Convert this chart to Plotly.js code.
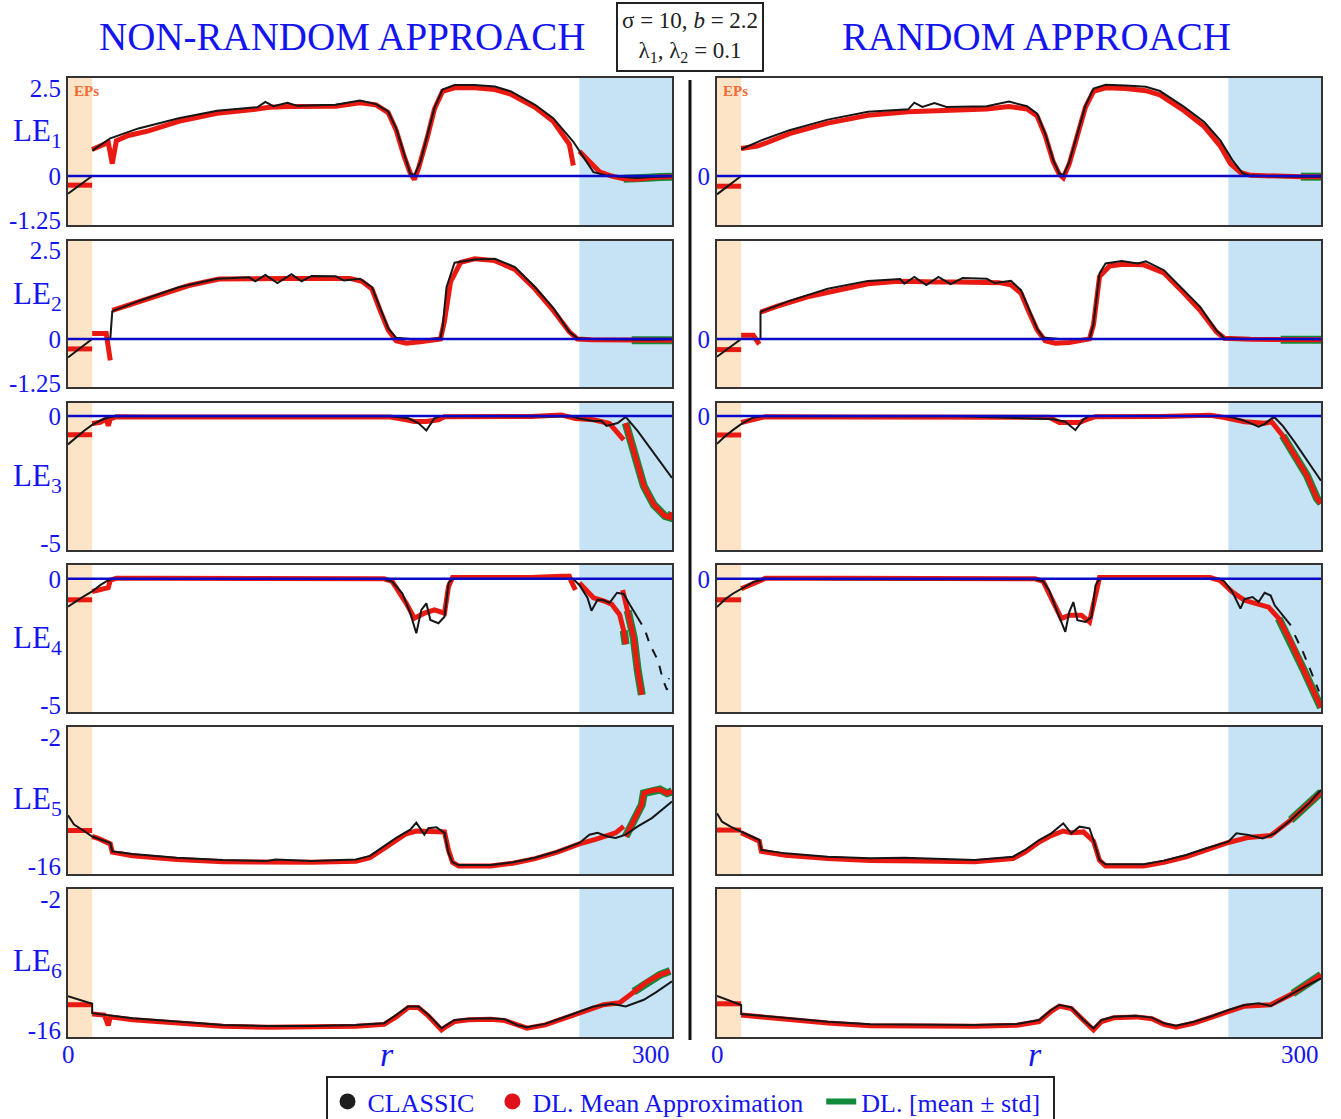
<!DOCTYPE html>
<html>
<head>
<meta charset="utf-8">
<script src="https://cdn.plot.ly/plotly-3.0.1.min.js"></script>
<style>html,body{margin:0;padding:0;background:#fff;}#chart{width:1341px;height:1119px;}</style>
</head>
<body>
<div id="chart"></div>
<script>
// ---------------- DATA ----------------
const columnTitles = ["NON-RANDOM APPROACH", "RANDOM APPROACH"];
const rowLabels = ["LE<sub>1</sub>", "LE<sub>2</sub>", "LE<sub>3</sub>", "LE<sub>4</sub>", "LE<sub>5</sub>", "LE<sub>6</sub>"];
const leftTickVals = [[-1.25, 0, 2.5], [-1.25, 0, 2.5], [-5, 0], [-5, 0], [-16, -2], [-16, -2]];
const rightTickVals = [[0], [0], [0], [0], [], []];
const xTickLabels = ["0", "300"];
const legendNames = ["CLASSIC", "DL. Mean Approximation", "DL. [mean ± std]"];
const paramText = "σ = 10, <i>b</i> = 2.2<br>λ<sub>1</sub>, λ<sub>2</sub> = 0.1";
const epRange = [0, 12];
const testRange = [254, 300];

// ---- NON-RANDOM (left column) ----
const L1_r_cl = [0,4,8,12,12,12,21,35,55,74,94,98,102,109,114,133,145,153,159,163,167,170,172,175,178.5,182,186,192,202,212,220,232,241,251,257,261,267,275,282,290,300];
const L1_cl   = [-0.5,-0.33,-0.16,0.0,null,0.72,1.07,1.35,1.64,1.85,1.95,2.10,1.98,2.08,1.99,2.02,2.14,2.04,1.83,1.35,0.59,0.07,0.02,0.40,1.16,1.93,2.45,2.58,2.58,2.54,2.40,2.02,1.64,0.97,0.45,0.11,0.02,-0.03,-0.06,-0.03,-0.01];
const L1_r_dl = [0,12,12,12,20,22,24,30,40,55,74,94,100,110,120,133,145,153,159,163,167,170,172,174,178.5,182,186,192,202,212,220,232,241,249,251,253,254,260,264,270,276,282,288,294,300];
const L1_dl   = [-0.26,-0.26,null,0.75,0.95,0.35,1.0,1.15,1.28,1.55,1.78,1.90,1.95,1.97,1.96,1.98,2.08,2.02,1.80,1.30,0.55,0.08,-0.1,0.2,1.1,1.9,2.4,2.5,2.5,2.45,2.32,1.95,1.55,0.9,0.3,null,0.7,0.35,0.12,0.0,-0.08,-0.09,-0.05,-0.03,-0.02];

const L2_r_cl = [0,4,8,12,16,21,22,35,55,74,90,93,98,104,111,116,121,133,137,145,151,155,159,163,170,180,185,186,188,192,202,212,222,232,241,249,253,260,270,280,290,300];
const L2_cl   = [-0.52,-0.35,-0.17,0,0,0,0.78,1.06,1.45,1.69,1.73,1.62,1.80,1.57,1.82,1.62,1.77,1.76,1.64,1.69,1.45,0.87,0.30,0.03,0,0,0.02,0.3,1.45,2.14,2.23,2.25,2.02,1.45,0.87,0.2,0.02,0,-0.01,-0.02,-0.02,-0.01];
const L2_r_dl = [0,12,12,12,19,21,22,22,30,45,60,75,90,100,110,120,133,140,146,151,155,159,163,168,175,180,185,187,190,195,202,212,222,232,241,249,253,260,270,280,288,294,300];
const L2_dl   = [-0.28,-0.28,null,0.15,0.15,-0.6,null,0.8,0.95,1.22,1.5,1.68,1.70,1.70,1.70,1.70,1.72,1.70,1.62,1.40,0.80,0.25,-0.05,-0.12,-0.08,-0.05,0.0,0.5,1.6,2.15,2.25,2.2,1.95,1.4,0.8,0.2,0.0,-0.02,-0.03,-0.04,-0.06,-0.05,-0.04];

const L3_r_cl = [0,4,8,12,16,20,24,40,80,120,160,169,174,178,182,185,200,230,250,254,261,265,267.5,273,277,283,289,295,300];
const L3_cl   = [-1.12,-0.85,-0.58,-0.35,-0.18,-0.06,0,-0.01,-0.01,-0.01,-0.01,-0.09,-0.28,-0.57,-0.09,0,0,0,-0.02,-0.1,-0.2,-0.2,-0.39,-0.28,-0.04,-0.6,-1.26,-1.93,-2.44];
const L3_r_dl = [0,12,12,12,16,19,20,21,24,40,80,120,160,168,172,178,184,187,200,230,245,252,261,266,269,276,276,277,280,284,286,291,296.5,299,300];
const L3_dl   = [-0.74,-0.74,null,-0.3,-0.25,-0.12,-0.39,-0.12,-0.03,-0.04,-0.04,-0.04,-0.04,-0.15,-0.22,-0.22,-0.15,-0.03,-0.03,-0.02,0.04,-0.1,-0.15,-0.25,-0.3,-0.94,null,-0.28,-1.15,-2.3,-2.76,-3.5,-3.94,-4.0,-3.8];

const L4_r_cl = [0,4,8,12,16,19,22,40,80,120,157,161,166,170,173,175.5,178,180,184,187,189,191,200,230,250.8,254,258,260,263,266,269,272.7,276,279,285];
const L4_cl   = [-1.1,-0.88,-0.68,-0.5,-0.25,-0.1,0,-0.01,-0.01,-0.01,-0.01,-0.11,-0.57,-1.36,-2.16,-1.23,-0.97,-1.63,-1.76,-1.5,-0.17,0,0,0,0,-0.24,-0.75,-1.26,-0.83,-0.85,-0.95,-0.55,-0.6,-1.02,-1.81];
const L4_r_cl_dash = [287,289,293,295.5,297.5,298.5];
const L4_cl_dash   = [-2.13,-2.6,-3.23,-4.0,-4.4,-3.94];
const L4_r_dl = [0,12,12,12,16,20,21,24,40,80,120,157,161,168,172,177,182,187,189,191,200,230,245,249,250,252,252,254,258,261,266,270,274,276,277,277,275.5,278,281,283,285];
const L4_dl   = [-0.83,-0.83,null,-0.5,-0.44,-0.35,-0.05,0.02,0.02,0.02,0.02,0.0,-0.1,-0.97,-1.56,-1.36,-1.23,-1.36,-0.3,0.05,0.05,0.05,0.1,0.1,-0.1,-0.44,null,-0.16,-0.5,-0.75,-0.87,-1.0,-1.42,-2.05,-2.6,null,-0.44,-1.26,-2.33,-3.64,-4.6];

const L5_r_cl = [0,3,8,12,21,22,32,54,77,99,103,121,143,150,157,163,170,173,177,179,183,187,189,191,194,210,221,232,243,254,259,263,268,272,277,283,290,294,300];
const L5_cl   = [-10.5,-11.5,-12.2,-12.8,-13.5,-14.4,-14.7,-15.1,-15.35,-15.45,-15.3,-15.45,-15.3,-14.9,-13.85,-12.95,-12.05,-11.3,-12.6,-11.9,-11.8,-12.4,-14.6,-15.6,-15.9,-15.9,-15.6,-15.1,-14.4,-13.5,-12.6,-12.4,-12.8,-12.95,-12.6,-11.7,-10.8,-10.1,-9.0];
const L5_r_dl = [0,12,12,12,15,21,22,32,54,77,99,121,143,150,157,163,168,173,180,187,189,191,194,210,221,232,243,254,262,266,272,276,276,277,281,285,286,290,294,297.5,300];
const L5_dl   = [-12.15,-12.15,null,-12.8,-13.0,-13.6,-14.5,-14.9,-15.3,-15.55,-15.6,-15.6,-15.5,-15.1,-14.1,-13.2,-12.5,-12.2,-12.3,-12.3,-14.3,-15.6,-16.0,-16.0,-15.7,-15.2,-14.5,-13.6,-13.1,-12.8,-12.4,-11.7,null,-12.8,-11.0,-9.35,-8.1,-7.8,-7.7,-8.1,-7.9];

const L6_r_cl = [0,6,12,12,32,54,77,99,121,143,157,163,169,174,179,185.5,188,192,199,210,217,223,228,237,246,254,261,270,277,286,292,300];
const L6_cl   = [-12.4,-12.8,-13.2,-14.2,-14.74,-15.1,-15.46,-15.57,-15.57,-15.46,-15.28,-14.38,-13.49,-13.49,-14.38,-15.82,-15.46,-14.92,-14.81,-14.74,-14.85,-15.46,-15.71,-15.35,-14.67,-14.02,-13.49,-13.2,-13.49,-12.77,-11.98,-10.79];
const L6_r_dl = [0,12,12,12,18,20,21,32,54,77,99,121,143,157,163,169,174,179,185.5,188,192,199,210,217,223,228,237,246,254,266,274,281,288,294,299];
const L6_dl   = [-13.3,-13.3,null,-14.3,-14.4,-15.5,-14.6,-14.9,-15.3,-15.6,-15.7,-15.7,-15.6,-15.4,-14.6,-13.6,-13.6,-14.5,-16.0,-15.6,-15.1,-14.9,-14.85,-15.0,-15.5,-15.8,-15.45,-14.8,-14.1,-13.3,-13.1,-11.9,-10.8,-10.1,-9.7];

// ---- RANDOM (right column) ----
const R1_r_cl = [0,4,8,12,12,12,22,36,55,75,95,98,102,108,114,134,145,154,159,163,167,170,172,175,179,183,187,193,203,213,220,232,242,250,256,261,264,275,290,300];
const R1_cl   = [-0.52,-0.35,-0.17,0,null,0.76,1.01,1.30,1.60,1.82,1.89,2.08,1.96,2.07,1.96,1.98,2.11,1.98,1.77,1.20,0.45,0.07,0.02,0.40,1.20,2.0,2.48,2.59,2.57,2.53,2.41,1.96,1.53,1.01,0.45,0.08,0.02,-0.01,-0.02,-0.02];
const R1_r_dl = [0,12,12,12,20,25,36,55,75,95,110,134,145,154,159,163,167,170,172,175,179,183,187,193,203,213,220,232,242,250,255,260,265,275,290,300];
const R1_dl   = [-0.29,-0.29,null,0.78,0.85,0.95,1.2,1.5,1.72,1.82,1.85,1.90,1.97,1.90,1.70,1.15,0.4,0.05,-0.05,0.35,1.15,1.95,2.4,2.5,2.48,2.42,2.3,1.85,1.4,0.85,0.35,0.1,0.02,-0.01,-0.02,-0.02];

const R2_r_cl = [0,4,8,12,16,21.6,21.6,36,55,75,91,93,98,104,110,116,122,134,138,146,151,155,159,162,170,180,185,187,190,193,201,209,213,222,232,240,248,252,265,280,300];
const R2_cl   = [-0.5,-0.34,-0.17,0,0,0,0.76,1.07,1.41,1.63,1.68,1.55,1.74,1.51,1.74,1.54,1.71,1.69,1.57,1.63,1.37,0.81,0.29,0.04,0,0,0,0.43,1.84,2.12,2.19,2.12,2.18,1.93,1.37,0.90,0.24,0.02,0.0,-0.01,-0.01];
const R2_r_dl = [0,12,12,12,18,21,21.6,21.6,30,45,60,75,90,100,110,120,134,140,146,151,155,159,163,168,175,180,185,187,190,195,202,212,222,232,240,248,252,265,280,300];
const R2_dl   = [-0.3,-0.3,null,0.1,0.1,-0.15,null,0.75,0.92,1.18,1.38,1.55,1.62,1.60,1.60,1.60,1.60,1.58,1.52,1.28,0.75,0.25,-0.05,-0.12,-0.1,-0.05,0.0,0.4,1.75,2.05,2.1,2.08,1.85,1.28,0.8,0.2,0.02,-0.01,-0.02,-0.02];

const R3_r_cl = [0,4.3,8,12,18,24,60,120,167,173,178,182,185,220,252,256,262,266,269,272,275.5,277,281,287,293,299,300];
const R3_cl   = [-1.10,-0.78,-0.55,-0.32,-0.06,0,-0.01,-0.01,-0.13,-0.23,-0.56,-0.13,0,0,0,-0.06,-0.19,-0.32,-0.42,-0.32,-0.10,-0.06,-0.39,-1.04,-1.75,-2.47,-2.55];
const R3_r_dl = [0,12,12,12,20,24,60,120,165,170,180,185,188,220,245,252,262,272,275.5,281,287,293,298,300];
const R3_dl   = [-0.75,-0.75,null,-0.26,-0.12,-0.03,-0.04,-0.04,-0.05,-0.26,-0.26,-0.1,-0.03,-0.02,0.03,-0.06,-0.23,-0.29,-0.23,-0.78,-1.56,-2.34,-3.25,-3.44];

const R4_r_cl = [0,4.3,8,12,18,24,60,120,158,162,165,169,173,175,177,179,183,186,188,190,220,250,252,256,260,262,266,269,272,275,277,281,285];
const R4_cl   = [-1.12,-0.79,-0.58,-0.39,-0.13,0,-0.02,-0.02,-0.02,-0.1,-0.46,-1.31,-2.1,-1.31,-0.92,-1.64,-1.71,-1.51,-0.26,0,0,0,-0.1,-0.52,-1.18,-0.8,-0.72,-0.92,-0.55,-0.66,-1.05,-1.44,-1.84];
const R4_r_cl_dash = [287,291,295,299];
const R4_cl_dash   = [-2.23,-2.89,-3.67,-4.46];
const R4_r_dl = [0,12,12,12,20,24,60,120,158,162,167,171,175,181,185,188,190,220,245,250,256,262,268,274,279,285,291,297,300];
const R4_dl   = [-0.83,-0.83,null,-0.39,-0.1,0.02,0.02,0.02,0.0,-0.1,-0.92,-1.57,-1.44,-1.44,-1.71,-0.52,0.05,0.05,0.05,-0.07,-0.52,-0.85,-0.98,-1.12,-1.57,-2.49,-3.54,-4.59,-5.1];

const R5_r_cl = [0,2.5,6.7,12,21,22,34,55,76,93,107,128,147,153,160,166,172,176,180,185,187,190,193,212,222,233,243,254,258,264,271,277,285,294,300];
const R5_cl   = [-10.29,-11.19,-11.73,-12.27,-13.18,-14.26,-14.63,-14.99,-15.17,-15.1,-15.17,-15.35,-14.99,-14.26,-13.18,-12.46,-11.37,-12.46,-11.73,-11.91,-13.18,-15.35,-15.82,-15.82,-15.42,-14.81,-14.08,-13.36,-12.46,-12.64,-13.0,-12.46,-11.0,-9.2,-7.75];
const R5_r_dl = [0,12,12,12,21,22,34,55,76,100,128,147,153,160,166,172,176,182,187,190,193,212,222,233,243,254,264,275,285,294,300];
const R5_dl   = [-12.1,-12.1,null,-12.4,-13.3,-14.4,-14.85,-15.2,-15.4,-15.45,-15.55,-15.2,-14.5,-13.4,-12.7,-12.2,-12.4,-12.3,-13.3,-15.4,-16.0,-16.0,-15.6,-15.0,-14.2,-13.45,-12.9,-12.7,-11.0,-9.3,-8.0];

const R6_r_cl = [0,12,12,34,55,76,107,128,149,160,166,170,176,182,187,191,197,208,216,222,228,237,246,254,262,269,275,283,292,300];
const R6_cl   = [-12.37,-13.33,-14.29,-14.75,-15.11,-15.4,-15.47,-15.47,-15.36,-14.93,-13.86,-13.33,-13.58,-14.93,-15.82,-14.93,-14.58,-14.47,-14.68,-15.29,-15.54,-15.11,-14.5,-13.86,-13.33,-13.15,-13.44,-12.44,-11.37,-10.48];
const R6_r_dl = [0,12,12,12,34,55,76,107,128,149,160,166,170,176,182,187,191,197,208,216,222,228,237,246,254,262,275,286,294,300];
const R6_dl   = [-13.2,-13.2,null,-14.4,-14.9,-15.25,-15.55,-15.6,-15.6,-15.5,-15.1,-14.0,-13.45,-13.7,-15.0,-16.0,-15.1,-14.7,-14.6,-14.8,-15.4,-15.7,-15.25,-14.6,-13.95,-13.45,-13.3,-12.1,-11.0,-10.1];

// ---------------- LAYOUT / STYLE ----------------
const W = 1341, H = 1119;
const FONT = "Liberation Serif, 'DejaVu Serif', serif";
const BLUE = "#1414f0";
const colPx = [[68, 672], [717, 1321]];
const rowPx = [[78, 225], [241, 387], [403, 550], [565, 712], [727, 874], [889, 1037]];
const yRanges = [[-1.39, 2.78], [-1.35, 2.75], [-5.28, 0.51], [-5.28, 0.55], [-16.87, -0.91], [-16.75, -0.93]];
const labelYpx = [133, 296, 478, 640, 801, 963];
const rLabelPx = [387, 1035];
const greenFrom = 276;
const NB = "\u00A0";

const panels = [
  [
    {rc: L1_r_cl, c: L1_cl, rd: L1_r_dl, d: L1_dl},
    {rc: L2_r_cl, c: L2_cl, rd: L2_r_dl, d: L2_dl},
    {rc: L3_r_cl, c: L3_cl, rd: L3_r_dl, d: L3_dl},
    {rc: L4_r_cl, c: L4_cl, rd: L4_r_dl, d: L4_dl, rcd: L4_r_cl_dash, cd: L4_cl_dash},
    {rc: L5_r_cl, c: L5_cl, rd: L5_r_dl, d: L5_dl},
    {rc: L6_r_cl, c: L6_cl, rd: L6_r_dl, d: L6_dl}
  ],
  [
    {rc: R1_r_cl, c: R1_cl, rd: R1_r_dl, d: R1_dl},
    {rc: R2_r_cl, c: R2_cl, rd: R2_r_dl, d: R2_dl},
    {rc: R3_r_cl, c: R3_cl, rd: R3_r_dl, d: R3_dl},
    {rc: R4_r_cl, c: R4_cl, rd: R4_r_dl, d: R4_dl, rcd: R4_r_cl_dash, cd: R4_cl_dash},
    {rc: R5_r_cl, c: R5_cl, rd: R5_r_dl, d: R5_dl},
    {rc: R6_r_cl, c: R6_cl, rd: R6_r_dl, d: R6_dl}
  ]
];

const px2x = p => p / W;
const px2y = p => 1 - p / H;

const traces = [];
const layout = {
  width: W, height: H,
  margin: {l: 0, r: 0, t: 0, b: 0, autoexpand: false},
  paper_bgcolor: "#fff", plot_bgcolor: "#fff",
  showlegend: true,
  font: {family: FONT, color: BLUE},
  shapes: [], annotations: []
};

for (let row = 0; row < 6; row++) {
  for (let col = 0; col < 2; col++) {
    const n = row * 2 + col + 1;
    const xa = "x" + (n === 1 ? "" : n), ya = "y" + (n === 1 ? "" : n);
    const p = panels[col][row];
    layout["xaxis" + (n === 1 ? "" : n)] = {
      domain: [px2x(colPx[col][0]), px2x(colPx[col][1])],
      anchor: ya, range: [0, 300], showticklabels: false, ticks: "",
      showgrid: false, zeroline: false, showline: true, mirror: true,
      linecolor: "#333", linewidth: 2, fixedrange: true
    };
    const tv = col === 0 ? leftTickVals[row] : rightTickVals[row];
    layout["yaxis" + (n === 1 ? "" : n)] = {
      domain: [px2y(rowPx[row][1]), px2y(rowPx[row][0])],
      anchor: xa, range: yRanges[row], tickvals: tv, ticktext: tv.map(v => String(v)),
      ticks: "", ticklabelstandoff: 0, showticklabels: tv.length > 0,
      tickfont: {family: FONT, size: 25, color: BLUE},
      showgrid: false, zeroline: false, showline: true, mirror: true,
      linecolor: "#333", linewidth: 2, fixedrange: true
    };
    layout.shapes.push({type: "rect", xref: xa, yref: ya + " domain", x0: epRange[0], x1: epRange[1], y0: 0, y1: 1,
      fillcolor: "#fde4c6", line: {width: 0}, layer: "below"});
    layout.shapes.push({type: "rect", xref: xa, yref: ya + " domain", x0: testRange[0], x1: testRange[1], y0: 0, y1: 1,
      fillcolor: "#c5e3f4", line: {width: 0}, layer: "below"});
    if (row < 4) {
      layout.shapes.push({type: "line", xref: xa, yref: ya, x0: 0, x1: 300, y0: 0, y1: 0,
        line: {color: "#0a0ac8", width: 2.5}, layer: "above"});
    }
    const gx = [], gy = [];
    p.rd.forEach((r, i) => { if (r >= greenFrom) { gx.push(r); gy.push(p.d[i]); } });
    traces.push({x: gx, y: gy, xaxis: xa, yaxis: ya, mode: "lines", showlegend: false, hoverinfo: "skip",
      line: {color: "#138a3a", width: 8}, connectgaps: false});
    traces.push({x: p.rd, y: p.d, xaxis: xa, yaxis: ya, mode: "lines", showlegend: false, hoverinfo: "skip",
      line: {color: "#ea1a12", width: 5}, connectgaps: false});
    traces.push({x: p.rc, y: p.c, xaxis: xa, yaxis: ya, mode: "lines", showlegend: false, hoverinfo: "skip",
      line: {color: "#161616", width: 2}, connectgaps: false});
    if (p.rcd) {
      traces.push({x: p.rcd, y: p.cd, xaxis: xa, yaxis: ya, mode: "lines", showlegend: false, hoverinfo: "skip",
        line: {color: "#161616", width: 2, dash: "dash"}});
    }
  }
  layout.annotations.push({xref: "paper", yref: "paper", x: px2x(37), y: px2y(labelYpx[row]),
    xanchor: "center", yanchor: "middle", showarrow: false, text: rowLabels[row],
    font: {family: FONT, size: 31, color: BLUE}});
}

["x11", "x12"].forEach((xa, i) => {
  layout.annotations.push({xref: xa, yref: "paper", x: 0, y: px2y(1039), xanchor: "center", yanchor: "top",
    showarrow: false, text: xTickLabels[0], font: {family: FONT, size: 25, color: BLUE}});
  layout.annotations.push({xref: xa, yref: "paper", x: 300, y: px2y(1039), xanchor: "right", yanchor: "top",
    showarrow: false, text: xTickLabels[1], font: {family: FONT, size: 25, color: BLUE}});
  layout.annotations.push({xref: "paper", yref: "paper", x: px2x(rLabelPx[i]), y: px2y(1034), xanchor: "center", yanchor: "top",
    showarrow: false, text: "<i>r</i>", font: {family: FONT, size: 34, color: BLUE}});
});

layout.annotations.push({xref: "paper", yref: "paper", x: px2x(342), y: px2y(37), xanchor: "center", yanchor: "middle",
  showarrow: false, text: columnTitles[0], font: {family: FONT, size: 39, color: BLUE}});
layout.annotations.push({xref: "paper", yref: "paper", x: px2x(1036), y: px2y(37), xanchor: "center", yanchor: "middle",
  showarrow: false, text: columnTitles[1], font: {family: FONT, size: 39, color: BLUE}});
layout.annotations.push({xref: "paper", yref: "paper", x: px2x(690), y: px2y(37), xanchor: "center", yanchor: "middle",
  showarrow: false, text: paramText, align: "center", bordercolor: "#222", borderwidth: 2, borderpad: 4, bgcolor: "#fff",
  font: {family: FONT, size: 23, color: "#222"}});
["x", "x2"].forEach(xa => {
  layout.annotations.push({xref: xa, yref: "paper", x: 1.8, y: px2y(91), xanchor: "left", yanchor: "middle",
    showarrow: false, text: "<b>EPs</b>", font: {family: FONT, size: 15, color: "#f26a35"}});
});
layout.shapes.push({type: "line", xref: "paper", yref: "paper", x0: px2x(690), x1: px2x(690), y0: px2y(1040), y1: px2y(80),
  line: {color: "#111", width: 3}});

traces.push({x: [null], y: [null], mode: "markers", name: legendNames[0] + NB + NB, marker: {color: "#1e1e1e", size: 19}});
traces.push({x: [null], y: [null], mode: "markers", name: legendNames[1] + NB + NB, marker: {color: "#e0101a", size: 19}});
traces.push({x: [null], y: [null], mode: "lines", name: legendNames[2] + NB, line: {color: "#138a3a", width: 6}});

layout.legend = {
  orientation: "h", x: px2x(690), xanchor: "center", y: px2y(1076), yanchor: "top",
  bordercolor: "#222", borderwidth: 2, bgcolor: "#fff",
  font: {family: FONT, size: 26, color: BLUE}, tracegroupgap: 0
};

Plotly.newPlot("chart", traces, layout, {displayModeBar: false, staticPlot: true});
</script>
</body>
</html>
